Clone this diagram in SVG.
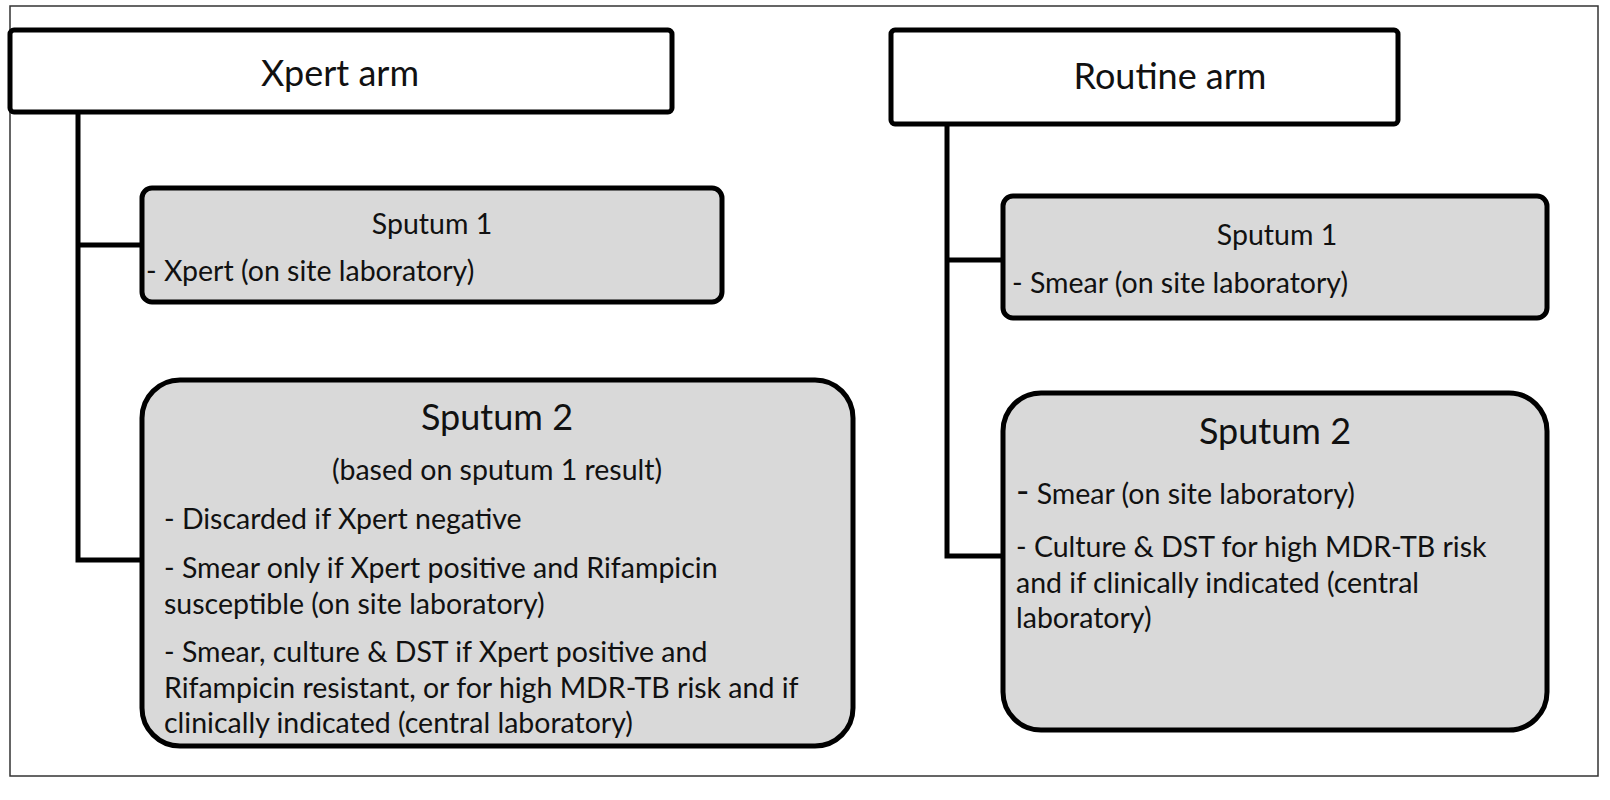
<svg xmlns="http://www.w3.org/2000/svg" width="1610" height="800" viewBox="0 0 1610 800">
<style>
text{font-family:Lato,"Open Sans","Liberation Sans",sans-serif;fill:#111}
.hd{stroke:#000;stroke-width:5;fill:#fff}
.bx{stroke:#000;stroke-width:5;fill:#d9d9d9}
.ln{stroke:#000;stroke-width:5;fill:none}
.s{font-size:28.5px}
.l{font-size:36px}
</style>
<rect x="0" y="0" width="1610" height="800" fill="#fff"/>
<rect x="10" y="6" width="1588" height="770" fill="none" stroke="#333" stroke-width="1.5"/>
<g id="connectors">
<path class="ln" d="M78 112V560H142M78 245H142"/>
<path class="ln" d="M947 124V556H1003M947 260H1003"/>
</g>
<g id="xpert-arm"><rect class="hd" x="10" y="30" width="662" height="82" rx="4"/><text class="l" x="340" y="86" text-anchor="middle">Xpert arm</text></g>
<g id="routine-arm"><rect class="hd" x="891" y="30" width="507" height="94" rx="4"/><text class="l" x="1170" y="89" text-anchor="middle">Routine arm</text></g>
<g id="xpert-s1"><rect class="bx" x="142" y="188" width="580" height="114" rx="10"/>
<text class="s" x="432" y="234" text-anchor="middle">Sputum 1</text>
<text class="s" x="146" y="281">- Xpert (on site laboratory)</text></g>
<g id="xpert-s2"><rect class="bx" x="142" y="380" width="711" height="366" rx="38"/>
<text class="l" x="497" y="430" text-anchor="middle">Sputum 2</text>
<text class="s" x="497" y="480" text-anchor="middle">(based on sputum 1 result)</text>
<text class="s" x="164" y="529">- Discarded if Xpert negative</text>
<text class="s" x="164" y="578">- Smear only if Xpert positive and Rifampicin</text>
<text class="s" x="164" y="614">susceptible (on site laboratory)</text>
<text class="s" x="164" y="662">- Smear, culture &amp; DST if Xpert positive and</text>
<text class="s" x="164" y="698">Rifampicin resistant, or for high MDR-TB risk and if</text>
<text class="s" x="164" y="733">clinically indicated (central laboratory)</text></g>
<g id="routine-s1"><rect class="bx" x="1003" y="196" width="544" height="122" rx="10"/>
<text class="s" x="1277" y="245" text-anchor="middle">Sputum 1</text>
<text class="s" x="1012" y="293">- Smear (on site laboratory)</text></g>
<g id="routine-s2"><rect class="bx" x="1003" y="393" width="544" height="337" rx="38"/>
<text class="l" x="1275" y="444" text-anchor="middle">Sputum 2</text>
<text class="s" x="1016" y="504"><tspan font-size="36">-</tspan> Smear (on site laboratory)</text>
<text class="s" x="1016" y="557">- Culture &amp; DST for high MDR-TB risk</text>
<text class="s" x="1016" y="593">and if clinically indicated (central</text>
<text class="s" x="1016" y="628">laboratory)</text></g>
</svg>
